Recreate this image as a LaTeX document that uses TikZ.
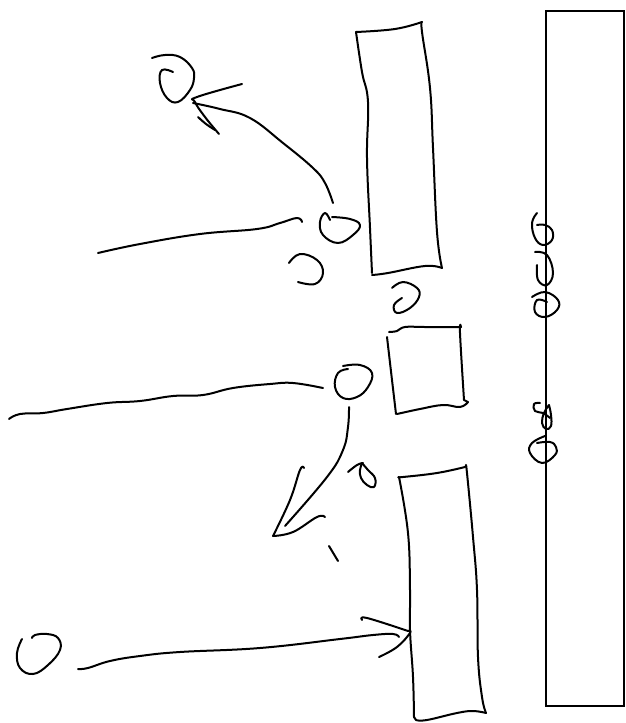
\documentclass[tikz,border=0pt]{standalone}
\tikzset{ink/.style={line width=2pt,line cap=round,line join=round,black}}
\newcommand{\sk}[1]{\draw[ink] plot[smooth,tension=0.7] coordinates {#1};}
\begin{document}
\begin{tikzpicture}[x=1pt,y=-1pt]
\path[use as bounding box,fill=white] (0,0) rectangle (626,723);
% big rectangle
\draw[line width=1.6pt,line join=miter] (546,11) rectangle (624,706);
% top bar
\sk{(356,32)(395,29)(422,22)}
\sk{(422,22)(422,32)(430,88)(433,148)(437,232)(442,268)}
\sk{(356,32)(362,72)(368,102)(367,158)(370,228)(372,273)}
\sk{(372,275)(388,273)(425,266)(442,268)}
% square
\sk{(389,332)(397,331)(405,327)(425,327)(461,327)}
\sk{(461,327)(460,333)(464,400)}
\draw[ink] (464,400) -- (468,402);
\sk{(468,402)(460,407)(443,405)(420,409)(397,414)}
\sk{(387,337)(392,380)(396,414)}
% bottom bar
\sk{(399,477)(403,477)(437,473)(465,467)}
\sk{(466,467)(467,473)(473,537)(477,590)(478,657)(482,697)(486,713)}
\sk{(416,720)(427,720)(457,713)(473,711)(486,713)}
\sk{(399,477)(408,533)(410,590)(410,630)(413,677)(414,717)}
\draw[ink] (414,717) -- (416,720);
% top-left circle and arrow
\sk{(152,58)(165,55)(180,57)(192,68)(194,78)(190,90)(178,102)(167,98)(160,83)(162,70)(173,72)}
\sk{(193,103)(220,109)(250,118)(283,143)(313,168)(325,183)(333,203)}
\sk{(242,84)(197,97)(195,102)(205,117)(219,134)}
\sk{(198,117)(206,124)(215,130)}
% upper beam
\sk{(98,253)(140,244)(200,234)(257,229)(280,223)(297,218)(302,222)}
\sk{(330,220)(325,213)(320,222)(323,235)(338,243)(353,235)(360,225)(350,219)(332,217)}
\sk{(289,263)(300,254)(317,260)(323,273)(315,284)(298,282)}
\sk{(392,288)(403,282)(417,288)(419,297)(410,308)(397,313)(394,305)(402,298)}
% middle beam
\sk{(9,419)(20,414)(43,413)(67,409)(107,403)(140,401)(173,396)(203,395)(233,388)(270,384)(293,383)(323,388)}
\sk{(343,366)(360,365)(372,373)(368,387)(357,397)(343,398)(335,387)(338,373)(348,369)}
\sk{(349,407)(348,427)(343,450)(327,477)(285,526)}
\sk{(304,468)(300,470)(290,500)(273,536)}
\sk{(273,536)(293,532)(317,517)(325,517)}
\draw[ink] (329,546) -- (338,561);
\sk{(348,472)(357,465)(363,463)}
\sk{(362,463)(360,470)(361,478)(367,485)(374,487)(375,478)(368,470)(362,463)}
% lower beam
\sk{(22,639)(17,653)(20,668)(33,674)(48,665)(60,650)(58,638)(47,634)(35,635)(32,638)}
\sk{(78,669)(88,668)(110,661)(140,656)(180,652)(260,648)(340,639)(373,635)(393,634)(399,637)}
\sk{(362,620)(367,618)(408,631)}
\sk{(408,631)(410,633)(397,647)(379,657)}
% glyphs on the big rectangle
\sk{(537,213)(532,223)(535,238)(543,245)(552,240)(552,230)(545,225)(537,225)}
\sk{(535,252)(547,255)(553,273)(547,285)(538,280)(537,265)}
\sk{(532,297)(545,292)(558,300)(557,310)(545,317)(535,312)(537,300)(547,302)}
\sk{(540,403)(534,404)(535,411)(543,413)(550,418)}
\sk{(549,405)(544,413)(542,423)(546,429)(551,426)(551,415)(549,405)}
\sk{(545,436)(532,443)(530,453)(542,463)(555,455)(556,447)(550,442)(537,443)}
\end{tikzpicture}
\end{document}
